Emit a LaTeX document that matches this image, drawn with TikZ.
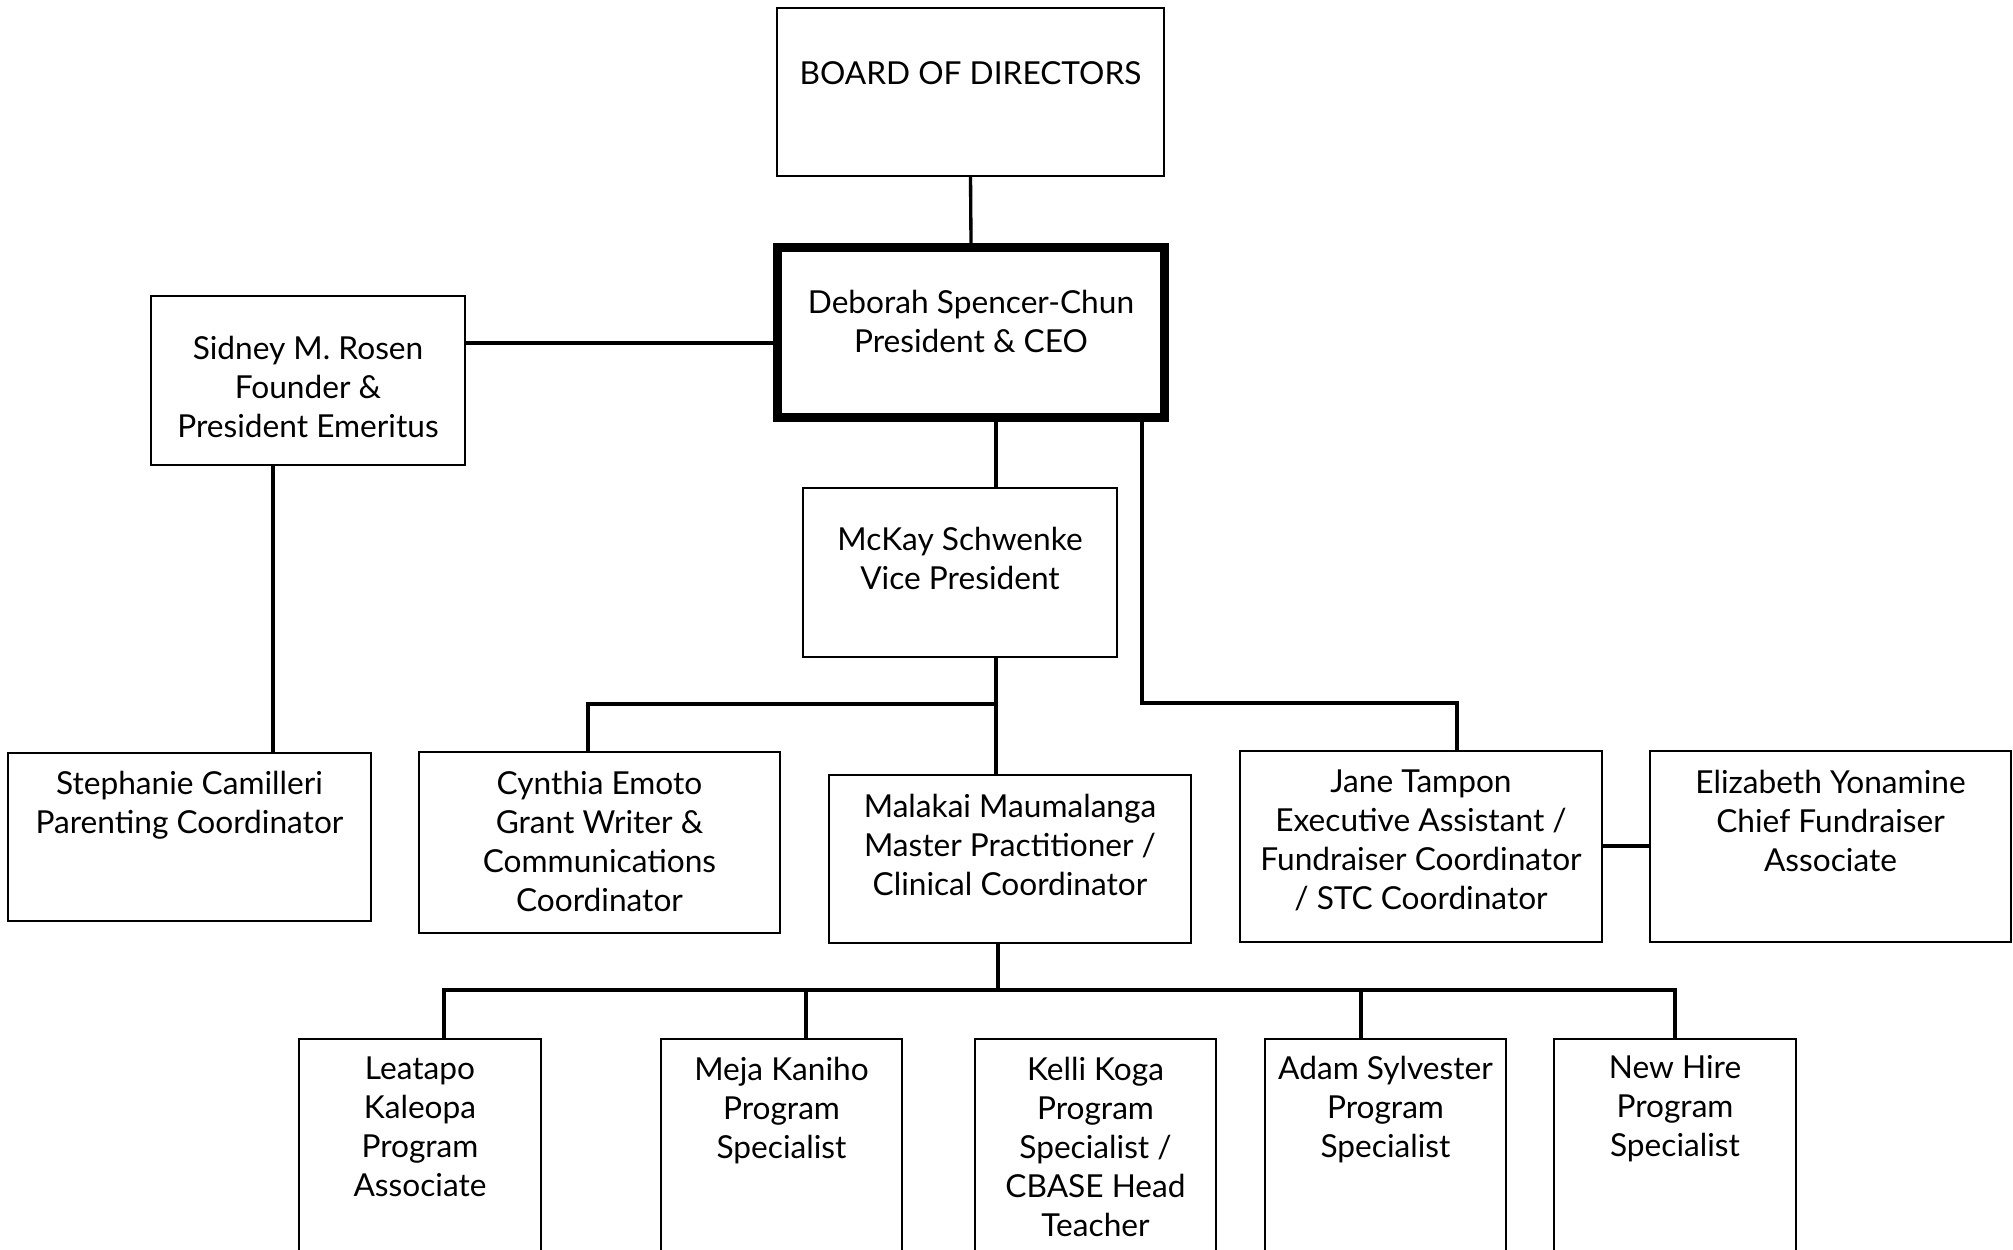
\documentclass[tikz,border=0pt]{standalone}
\usepackage{fontspec}
\setmainfont{Lato}
\begin{document}
\begin{tikzpicture}[x=0.01cm, y=-0.01cm,
  box/.style={draw, line width=0.5pt, inner sep=0pt},
  ceobox/.style={draw, line width=2.6pt, inner sep=0pt},
  txt/.style={align=center, inner sep=0pt, anchor=north,
    font=\fontsize{9}{11.1}\selectfont},
  conn/.style={line width=0.95pt},
  bus/.style={line width=1.2pt}]
\useasboundingbox (0,0) rectangle (2013,1249);
\clip (0,0) rectangle (2013,1249);

% boxes
\node[box, minimum width=3.87cm, minimum height=1.68cm] (board) at (970.5,92) {};
\node[ceobox, minimum width=3.87cm, minimum height=1.70cm] (ceo) at (971,332.5) {};
\node[box, minimum width=3.14cm, minimum height=1.69cm] (sidney) at (308,380.5) {};
\node[box, minimum width=3.14cm, minimum height=1.69cm] (mckay) at (960,572.5) {};
\node[box, minimum width=3.63cm, minimum height=1.68cm] (steph) at (189.5,837) {};
\node[box, minimum width=3.61cm, minimum height=1.81cm] (cynthia) at (599.5,842.5) {};
\node[box, minimum width=3.62cm, minimum height=1.68cm] (malakai) at (1010,859) {};
\node[box, minimum width=3.62cm, minimum height=1.91cm] (jane) at (1421,846.5) {};
\node[box, minimum width=3.61cm, minimum height=1.91cm] (eliz) at (1830.5,846.5) {};
\node[box, minimum width=2.42cm, minimum height=2.61cm] (leatapo) at (420,1169.5) {};
\node[box, minimum width=2.41cm, minimum height=2.61cm] (meja) at (781.5,1169.5) {};
\node[box, minimum width=2.41cm, minimum height=2.61cm] (kelli) at (1095.5,1169.5) {};
\node[box, minimum width=2.41cm, minimum height=2.61cm] (adam) at (1385.5,1169.5) {};
\node[box, minimum width=2.42cm, minimum height=2.61cm] (newhire) at (1675,1169.5) {};

% labels
\node[txt] (board-t) at (970.5,61) {BOARD OF DIRECTORS};
\node[txt] (ceo-t) at (971,289) {Deborah Spencer-Chun\\President \& CEO};
\node[txt] (sidney-t) at (308,335) {Sidney M. Rosen\\Founder \&\\President Emeritus};
\node[txt] (mckay-t) at (960,526) {McKay Schwenke\\Vice President};
\node[txt] (steph-t) at (189.5,770) {Stephanie Camilleri\\Parenting Coordinator};
\node[txt] (cynthia-t) at (599.5,770) {Cynthia Emoto\\Grant Writer \&\\Communications\\Coordinator};
\node[txt] (malakai-t) at (1010,793) {Malakai Maumalanga\\Master Practitioner /\\Clinical Coordinator};
\node[txt] (jane-t) at (1421,769) {Jane Tampon\\Executive Assistant /\\Fundraiser Coordinator\\/ STC Coordinator};
\node[txt] (eliz-t) at (1830.5,769) {Elizabeth Yonamine\\Chief Fundraiser\\Associate};
\node[txt] (leatapo-t) at (420,1056) {Leatapo\\Kaleopa\\Program\\Associate};
\node[txt] (meja-t) at (781.5,1056) {Meja Kaniho\\Program\\Specialist};
\node[txt] (kelli-t) at (1095.5,1056) {Kelli Koga\\Program\\Specialist /\\CBASE Head\\Teacher};
\node[txt] (adam-t) at (1385.5,1055) {Adam Sylvester\\Program\\Specialist};
\node[txt] (newhire-t) at (1675,1055) {New Hire\\Program\\Specialist};

% reporting lines
\coordinate (jbend) at (1457,703);
\coordinate (vpbus) at (996,704);
\coordinate (pbus) at (998,990);

\draw[conn] (board.south) -- (ceo.north);
\draw[conn] (sidney.east |- 0,343) -- (ceo.west |- 0,343);
\draw[conn] (sidney.south -| 273,0) -- (steph.north -| 273,0);
\draw[conn] (ceo.south -| vpbus) -- (mckay.north -| vpbus);
\draw[conn] (ceo.south -| 1142,0) |- (jbend) -- (jane.north -| jbend);
\draw[conn] (mckay.south -| vpbus) -- (malakai.north -| vpbus);
\draw[bus] (cynthia.north -| 588,0) |- (vpbus);
\draw[conn] (jane.east |- 0,846) -- (eliz.west |- 0,846);
\draw[conn] (malakai.south -| pbus) -- (pbus);
\draw[bus] (leatapo.north -| 444,0) |- (pbus);
\draw[bus] (meja.north -| 806,0) |- (pbus);
\draw[bus] (adam.north -| 1361,0) |- (pbus);
\draw[bus] (newhire.north -| 1675,0) |- (pbus);
\end{tikzpicture}
\end{document}
